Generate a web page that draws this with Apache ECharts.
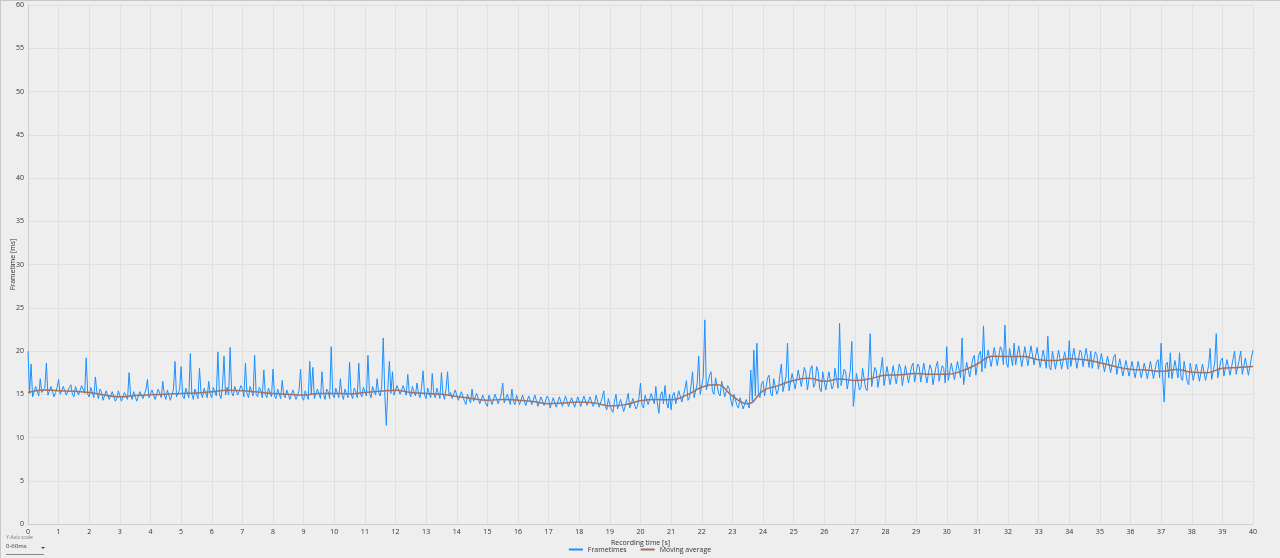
<!DOCTYPE html>
<html>
<head>
<meta charset="utf-8">
<script src="https://cdn.jsdelivr.net/npm/echarts@6/dist/echarts.min.js"></script>
<style>
  html, body { margin: 0; padding: 0; background: #eeeeee; }
  #chart { width: 1280px; height: 558px; }
</style>
</head>
<body>
<div id="chart"></div>
<script>
// frametimes in ms, 20 readings per second of recording (0 .. 40 s)
const recordLength = 40;
const frametimes = [
  20.0, 15.1, 18.5, 14.7, 14.6, 15.9, 15.8, 14.8, 16.8, 15.2, 15.0, 15.7, 18.6, 14.9, 14.9, 15.9, 15.8, 14.7, 15.2, 15.8,
  16.7, 15.0, 14.8, 15.9, 15.9, 14.9, 15.0, 15.8, 16.1, 15.0, 14.7, 15.9, 15.8, 14.9, 15.1, 16.0, 16.0, 15.1, 19.2, 15.0,
  14.7, 15.8, 15.6, 14.6, 17.0, 15.2, 14.5, 15.6, 15.3, 14.3, 14.4, 15.4, 15.2, 14.4, 14.2, 15.3, 15.1, 14.2, 14.5, 15.4,
  15.3, 14.2, 14.3, 15.2, 15.1, 14.4, 17.5, 14.9, 14.4, 15.3, 15.2, 14.2, 14.1, 15.3, 15.4, 14.5, 14.6, 15.5, 16.7, 14.6,
  14.5, 15.5, 15.4, 14.4, 14.3, 15.6, 15.6, 14.6, 16.5, 15.0, 14.4, 15.5, 15.3, 14.3, 14.2, 15.6, 18.8, 14.7, 14.6, 15.5,
  18.2, 14.8, 14.5, 15.7, 15.5, 14.6, 19.7, 15.0, 14.4, 15.6, 15.4, 14.5, 18.0, 15.1, 14.6, 15.7, 15.6, 14.6, 16.5, 15.0,
  14.6, 15.8, 15.7, 14.8, 19.9, 15.0, 14.5, 15.9, 19.4, 14.9, 15.8, 14.9, 20.4, 15.2, 14.8, 15.9, 15.9, 14.9, 15.0, 16.0,
  15.6, 14.7, 18.6, 15.1, 14.6, 15.9, 15.9, 14.8, 19.5, 15.0, 14.7, 15.8, 15.5, 14.6, 17.8, 15.0, 14.6, 15.7, 15.7, 14.7,
  17.9, 14.8, 14.5, 15.6, 15.4, 14.5, 16.6, 14.9, 14.6, 15.5, 15.5, 14.4, 14.3, 15.5, 15.3, 14.4, 14.5, 15.4, 17.9, 14.6,
  14.3, 15.4, 15.4, 14.4, 18.8, 15.0, 18.1, 14.5, 14.6, 15.6, 15.5, 14.5, 17.6, 15.0, 14.4, 15.6, 15.3, 14.5, 20.5, 15.0,
  14.6, 15.7, 15.5, 14.6, 16.8, 15.0, 14.4, 15.6, 15.6, 14.6, 18.7, 15.0, 14.5, 15.7, 15.4, 14.6, 18.6, 15.1, 14.7, 15.8,
  15.8, 14.8, 19.5, 15.1, 14.6, 15.9, 15.7, 14.9, 16.8, 15.2, 14.8, 15.9, 21.5, 15.0, 11.4, 15.8, 18.8, 15.1, 17.6, 14.9,
  14.9, 16.0, 15.9, 15.0, 15.0, 16.0, 16.0, 14.9, 17.3, 15.2, 14.7, 15.9, 15.8, 14.8, 16.3, 15.1, 14.6, 15.8, 17.7, 14.9,
  14.5, 15.7, 15.6, 14.6, 17.4, 15.0, 14.6, 15.7, 15.5, 14.5, 17.5, 15.0, 14.4, 15.6, 17.6, 14.8, 15.2, 14.5, 14.3, 15.5,
  15.3, 14.3, 14.1, 15.3, 15.4, 14.2, 13.8, 15.0, 15.1, 14.0, 15.6, 14.2, 14.0, 15.1, 14.9, 13.9, 13.7, 14.9, 15.0, 13.9,
  13.6, 14.9, 14.8, 13.8, 14.0, 15.0, 15.0, 13.9, 13.7, 14.9, 16.3, 14.0, 14.1, 15.0, 14.9, 13.8, 15.6, 14.2, 13.8, 14.9,
  14.9, 13.8, 13.9, 14.9, 14.8, 13.7, 13.7, 14.8, 15.0, 13.8, 14.0, 14.9, 14.7, 13.6, 13.6, 14.7, 14.6, 13.7, 13.8, 14.8,
  14.5, 13.4, 13.3, 14.6, 14.4, 13.5, 13.6, 14.7, 14.7, 13.6, 13.5, 14.8, 15.0, 13.6, 13.7, 14.6, 14.5, 13.5, 13.6, 14.7,
  14.7, 13.6, 13.8, 14.8, 14.9, 13.7, 13.5, 14.7, 14.6, 13.6, 13.9, 14.9, 14.8, 13.5, 13.4, 14.6, 15.4, 13.6, 13.2, 14.5,
  14.3, 13.2, 12.9, 14.2, 15.0, 13.3, 13.3, 14.4, 14.2, 13.0, 13.1, 14.3, 15.1, 13.4, 13.5, 14.5, 14.4, 13.3, 13.6, 14.6,
  16.3, 13.7, 13.4, 14.9, 15.0, 13.8, 13.8, 15.1, 15.2, 13.9, 15.9, 14.0, 12.8, 14.9, 15.3, 13.9, 16.0, 14.1, 13.4, 15.0,
  13.2, 14.9, 15.2, 13.9, 14.0, 15.4, 15.5, 14.1, 14.3, 15.6, 16.6, 14.3, 14.6, 16.0, 17.6, 14.6, 14.5, 16.2, 19.4, 15.0,
  15.2, 17.0, 23.6, 15.5, 15.4, 17.1, 17.6, 15.3, 15.0, 16.9, 16.9, 15.1, 14.8, 16.5, 16.3, 14.7, 14.6, 16.0, 15.6, 14.3,
  13.6, 15.0, 14.8, 13.7, 13.4, 14.6, 14.4, 13.3, 13.5, 14.4, 14.3, 13.4, 17.8, 14.2, 20.1, 14.8, 20.9, 15.0, 14.6, 16.2,
  16.5, 14.8, 15.0, 16.9, 17.2, 15.1, 14.8, 16.8, 16.9, 15.0, 15.5, 17.2, 18.5, 15.3, 15.2, 17.0, 20.9, 15.4, 15.4, 17.4,
  17.6, 15.6, 15.6, 17.8, 18.0, 15.9, 16.0, 18.1, 17.5, 15.5, 15.5, 17.9, 18.3, 15.8, 16.2, 18.2, 17.7, 15.7, 15.3, 17.6,
  17.8, 15.5, 15.4, 17.6, 17.5, 15.6, 16.0, 18.0, 18.1, 15.7, 23.2, 16.0, 15.8, 17.9, 17.6, 15.6, 15.5, 17.7, 21.1, 13.6,
  13.6, 17.4, 17.5, 15.5, 15.8, 18.0, 17.9, 15.7, 15.4, 17.8, 22.0, 15.9, 16.0, 18.1, 17.7, 15.8, 15.6, 17.9, 19.3, 16.0,
  16.2, 18.2, 18.0, 16.1, 16.0, 18.3, 18.3, 16.2, 16.4, 18.5, 17.9, 16.0, 16.1, 18.3, 18.4, 16.3, 16.5, 18.2, 18.6, 16.4,
  16.3, 18.5, 18.2, 16.4, 16.6, 18.6, 18.7, 16.3, 16.2, 18.4, 17.9, 16.1, 16.0, 18.2, 18.8, 16.5, 16.4, 18.3, 18.0, 16.3,
  20.5, 16.6, 16.5, 18.6, 18.4, 16.7, 16.8, 18.8, 19.0, 16.9, 21.5, 16.1, 16.1, 18.7, 18.9, 17.0, 17.0, 19.1, 19.5, 17.2,
  17.4, 19.6, 20.0, 17.6, 22.9, 18.0, 17.8, 20.1, 20.3, 18.2, 18.0, 20.4, 20.6, 18.3, 18.5, 20.5, 20.1, 18.4, 23.0, 18.6,
  18.1, 20.3, 20.5, 18.3, 20.9, 18.4, 18.3, 20.6, 20.8, 18.2, 18.0, 20.5, 20.4, 18.3, 18.5, 20.6, 20.7, 18.4, 18.2, 20.4,
  20.5, 18.1, 18.0, 20.1, 20.2, 18.0, 21.7, 18.1, 17.8, 20.0, 19.9, 17.9, 18.0, 20.1, 20.3, 17.9, 17.7, 19.9, 19.8, 17.9,
  21.2, 18.2, 18.1, 20.3, 20.2, 18.0, 17.9, 20.1, 19.8, 18.2, 18.3, 20.3, 20.4, 18.1, 20.0, 18.0, 17.8, 19.9, 19.6, 17.9,
  17.7, 19.7, 19.5, 17.6, 17.5, 19.4, 19.2, 17.5, 17.4, 19.3, 19.6, 17.3, 17.2, 19.1, 18.9, 17.1, 17.0, 18.9, 18.8, 17.1,
  16.9, 18.8, 18.6, 16.9, 17.1, 18.8, 18.7, 16.9, 16.8, 18.6, 18.5, 16.8, 17.0, 18.8, 18.9, 16.8, 16.7, 18.7, 19.0, 16.9,
  20.9, 17.0, 14.1, 18.4, 18.7, 16.9, 19.8, 16.8, 16.8, 18.9, 19.0, 16.9, 19.8, 16.9, 16.6, 18.8, 18.7, 16.5, 16.1, 18.6,
  18.6, 16.6, 16.5, 18.5, 18.3, 16.5, 16.6, 18.5, 18.4, 16.6, 16.4, 18.3, 20.3, 16.7, 16.8, 18.6, 22.0, 16.9, 17.0, 18.9,
  19.2, 17.1, 17.0, 19.0, 18.9, 17.2, 17.2, 19.1, 20.0, 17.3, 17.1, 19.0, 20.0, 17.3, 17.3, 19.2, 19.1, 17.2, 17.2, 19.3,
  20.1
];

// moving average in ms, one value every 0.5 s
const avgStep = 0.5;
const movingAverage = [
  15.2, 15.5, 15.4, 15.35, 15.2, 14.9, 14.7, 14.85, 14.95, 15.0,
  15.1, 15.15, 15.3, 15.45, 15.4, 15.25, 15.1, 15.0, 14.9, 15.1,
  15.1, 15.05, 15.2, 15.35, 15.45, 15.2, 15.1, 15.0, 14.75, 14.5,
  14.3, 14.4, 14.3, 14.15, 13.9, 14.0, 14.1, 14.0, 13.65, 13.8,
  14.25, 14.4, 14.35, 14.9, 15.8, 16.1, 14.8, 13.9, 15.4, 16.0,
  16.6, 16.85, 16.5, 16.75, 16.6, 16.8, 17.2, 17.25, 17.4, 17.3,
  17.3, 17.7, 18.5, 19.4, 19.35, 19.35, 19.0, 18.9, 19.1, 19.0,
  18.65, 18.2, 17.9, 17.8, 17.65, 17.85, 17.55, 17.5, 18.0, 18.1,
  18.2
];

const chart = echarts.init(document.getElementById("chart"));

const frameStep = recordLength / (frametimes.length - 1);
const frameData = frametimes.map((v, i) => [i * frameStep, v]);
const avgData = movingAverage.map((v, i) => [i * avgStep, v]);

const labelStyle = { color: "#333", fontSize: 7, fontFamily: "Open Sans" };

chart.setOption({
  animation: false,
  backgroundColor: "#eeeeee",
  grid: { left: 28, right: 27, top: 5, bottom: 34, outerBoundsMode: "none", containLabel: false },
  legend: {
    bottom: 0,
    left: "center",
    itemWidth: 14,
    itemHeight: 2,
    itemGap: 14,
    icon: "rect",
    textStyle: { color: "#333", fontSize: 7, fontFamily: "Open Sans" },
    data: ["Frametimes", "Moving average"],
  },
  xAxis: {
    type: "value",
    min: 0,
    max: 40,
    interval: 1,
    name: "Recording time [s]",
    nameLocation: "middle",
    nameGap: 10,
    nameTextStyle: { color: "#333", fontSize: 7, fontFamily: "Open Sans" },
    axisLabel: Object.assign({ margin: 4 }, labelStyle),
    axisTick: { show: false },
    axisLine: { show: true, lineStyle: { color: "#d0d0d0" } },
    splitLine: { show: true, lineStyle: { color: "#e0e0e0", width: 1 } },
  },
  yAxis: {
    type: "value",
    min: 0,
    max: 60,
    interval: 5,
    name: "Frametime [ms]",
    nameLocation: "middle",
    nameGap: 12,
    nameMoveOverlap: false,
    nameTextStyle: { color: "#333", fontSize: 7, fontFamily: "Open Sans" },
    axisLabel: Object.assign({ margin: 4 }, labelStyle),
    axisTick: { show: false },
    axisLine: { show: true, lineStyle: { color: "#d0d0d0" } },
    splitLine: { show: true, lineStyle: { color: "#e0e0e0", width: 1 } },
  },
  series: [
    {
      name: "Frametimes",
      type: "line",
      data: frameData,
      showSymbol: false,
      symbol: "none",
      lineStyle: { color: "#1e90ff", width: 1 },
      itemStyle: { color: "#1e90ff" },
    },
    {
      name: "Moving average",
      type: "line",
      data: avgData,
      smooth: true,
      showSymbol: false,
      symbol: "none",
      lineStyle: { color: "#9c7366", width: 1.5 },
      itemStyle: { color: "#9c7366" },
    },
  ],
  graphic: [
    // top and right border of the plot
    { type: "line", shape: { x1: 28, y1: 5.5, x2: 1253, y2: 5.5 }, style: { stroke: "#d0d0d0", lineWidth: 1 } },
    { type: "line", shape: { x1: 1253.5, y1: 5, x2: 1253.5, y2: 524 }, style: { stroke: "#d0d0d0", lineWidth: 1 } },
    // window frame
    { type: "line", shape: { x1: 0.5, y1: 0, x2: 0.5, y2: 558 }, style: { stroke: "#c8c8c8", lineWidth: 1 } },
    { type: "line", shape: { x1: 0, y1: 0.5, x2: 1280, y2: 0.5 }, style: { stroke: "#c8c8c8", lineWidth: 1 } },
    // y-axis scale selector
    { type: "text", left: 6, top: 535, style: { text: "Y-Axis scale", fill: "#777", fontSize: 5, fontFamily: "Open Sans" } },
    { type: "text", left: 6, top: 543, style: { text: "0-60ms", fill: "#333", fontSize: 6, fontFamily: "Open Sans" } },
    { type: "polygon", shape: { points: [[41, 547], [45, 547], [43, 549]] }, style: { fill: "#444" } },
    { type: "line", shape: { x1: 6, y1: 554.5, x2: 44, y2: 554.5 }, style: { stroke: "#888", lineWidth: 1 } },
  ],
});
</script>
</body>
</html>
